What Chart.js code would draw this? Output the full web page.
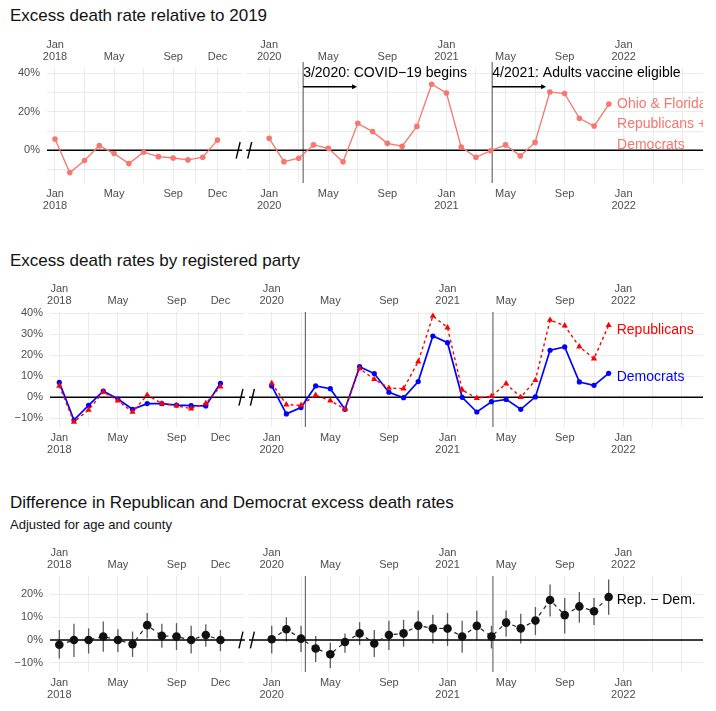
<!DOCTYPE html>
<html>
<head>
<meta charset="utf-8">
<script src="https://cdn.jsdelivr.net/npm/chart.js@4.4.1/dist/chart.umd.min.js"></script>
<style>
  body { margin: 0; background: #fff; font-family: 'Liberation Sans', Arial, sans-serif; }
  #wrap { position: relative; width: 716px; height: 711px; overflow: hidden; }
  .titulo { position: absolute; left: 10px; font-size: 17px; line-height: 20px; color: #111; white-space: nowrap; }
  .sub { position: absolute; left: 10px; font-size: 13px; line-height: 16px; color: #111; white-space: nowrap; }
  .painel { position: absolute; left: 0; width: 716px; }
</style>
</head>
<body>
<div id="wrap">
  <div class="titulo" style="top:6px">Excess death rate relative to 2019</div>
  <div class="painel" style="top:36px;height:179px"><canvas id="c1"></canvas></div>

  <div class="titulo" style="top:251px">Excess death rates by registered party</div>
  <div class="painel" style="top:280px;height:179px"><canvas id="c2"></canvas></div>

  <div class="titulo" style="top:493px">Difference in Republican and Democrat excess death rates</div>
  <div class="sub" style="top:517px">Adjusted for age and county</div>
  <div class="painel" style="top:544px;height:160px"><canvas id="c3"></canvas></div>
</div>

<script>
  // meses
  const months2018 = ['Jan', 'Feb', 'Mar', 'Apr', 'May', 'Jun', 'Jul', 'Aug', 'Sep', 'Oct', 'Nov', 'Dec'];
  const months2020 = months2018.map(m => m + ' 2020').concat(months2018.map(m => m + ' 2021'));

  // painel 1: Ohio & Florida, Republicans + Democrats (%)
  const total2018 = [5.9, -11.6, -5.3, 2.4, -1.7, -6.9, -1.0, -3.3, -4.0, -5.0, -3.6, 5.3];
  const total2020 = [6.2, -5.9, -4.1, 2.8, 1.0, -6.0, 14.0, 9.7, 3.6, 2.1, 12.4, 34.3,
                     29.8, 1.7, -3.6, -0.2, 2.8, -2.9, 4.1, 30.3, 29.5, 16.6, 12.6, 24.0];

  // painel 2: por partido (%)
  const dem2018 = [7.1, -10.8, -3.8, 3.0, -0.8, -5.7, -3.0, -3.0, -3.7, -4.0, -4.1, 6.7];
  const rep2018 = [5.4, -11.7, -6.0, 2.5, -1.6, -7.0, 1.1, -3.0, -4.0, -5.4, -2.9, 5.1];
  const dem2020 = [5.4, -7.9, -4.9, 5.4, 4.1, -5.7, 14.6, 11.3, 2.4, -0.2, 7.5, 29.2,
                   26.0, 0.0, -7.0, -2.1, -1.0, -5.7, 0.2, 22.4, 24.0, 7.3, 5.7, 11.4];
  const rep2020 = [6.7, -3.5, -3.8, 1.0, -1.6, -5.7, 13.7, 8.6, 4.4, 4.1, 17.0, 38.7,
                   33.2, 3.5, -0.4, 0.5, 6.5, 0.0, 8.1, 36.8, 34.1, 24.1, 18.4, 34.3];

  // painel 3: Rep. - Dem. com intervalo (%)
  const diff2018 = [-2.1, 0.0, 0.0, 1.5, 0.0, -1.8, 6.5, 1.8, 1.5, 0.0, 2.2, 0.0];
  const diffLo2018 = [-8.1, -7.4, -5.9, -5.1, -5.3, -7.4, 0.7, -3.4, -4.4, -5.9, -2.9, -4.9];
  const diffHi2018 = [4.4, 7.1, 5.1, 8.1, 4.7, 3.7, 11.8, 7.1, 7.4, 6.2, 6.9, 4.4];
  const diff2020 = [0.3, 4.7, 0.6, -3.7, -6.2, -0.9, 2.9, -1.5, 2.2, 2.9, 6.3, 5.1,
                    5.0, 1.5, 6.2, 1.5, 7.6, 5.1, 8.5, 17.5, 10.9, 14.7, 12.6, 18.8];
  const diffLo2020 = [-5.9, -0.7, -5.3, -9.6, -12.2, -5.6, -2.2, -7.4, -4.4, -2.9, 0.3, -1.5,
                      -2.6, -5.6, 0.0, -3.7, 1.5, -1.5, 2.2, 10.3, 2.9, 7.6, 6.6, 11.0];
  const diffHi2020 = [6.2, 10.0, 6.2, 1.8, -1.2, 2.9, 7.8, 4.4, 8.4, 8.8, 12.8, 11.0,
                      11.8, 8.4, 12.8, 6.2, 12.9, 11.5, 14.4, 24.3, 18.4, 21.0, 18.4, 26.5];

  // marcos (meses depois de Jan 2020)
  const eventMonths = [2.3, 15.1];
  const eventTexts = ['3/2020: COVID\u221219 begins', '4/2021: Adults vaccine eligible'];

  // rótulos do eixo x (posição em meses)
  const xLab2018 = { 0: ['Jan', '2018'], 4: 'May', 8: 'Sep', 11: 'Dec' };
  const xLab2020 = { 0: ['Jan', '2020'], 4: 'May', 8: 'Sep', 12: ['Jan', '2021'], 16: 'May', 20: 'Sep', 24: ['Jan', '2022'] };
  const xMinor2018 = [2, 6, 9.5];
  const xMinor2020 = [2, 6, 10, 14, 18, 22, 26, 28];

  const GRID = '#EBEBEB';
  const OFF20 = 14.5;           // Jan 2020 no eixo comprimido
  const GAP = [12.67, 12.95];   // quebra entre 2018 e 2020
  const SLASH = [12.4, 13.18];
  const FONT = "'Liberation Sans', Arial, sans-serif";

  Chart.defaults.font.family = FONT;
  Chart.defaults.font.size = 11;
  Chart.defaults.color = '#4D4D4D';

  const pts18 = vals => vals.map((v, i) => ({ x: i, y: v }));
  const pts20 = vals => vals.map((v, i) => ({ x: OFF20 + i, y: v }));

  const xTicks = [];
  Object.keys(xLab2018).forEach(k => xTicks.push({ value: +k, label: xLab2018[k] }));
  xMinor2018.forEach(k => xTicks.push({ value: k, label: '' }));
  Object.keys(xLab2020).forEach(k => xTicks.push({ value: OFF20 + +k, label: xLab2020[k] }));
  xMinor2020.forEach(k => xTicks.push({ value: OFF20 + k, label: '' }));
  xTicks.sort((a, b) => a.value - b.value);

  const pct = v => (v < 0 ? '\u2212' + (-v) : v) + '%';

  function eixoX(pos, min, max, grade) {
    return {
      type: 'linear', position: pos, min: min, max: max,
      grid: { display: grade, color: GRID, drawTicks: false },
      border: { display: false },
      afterBuildTicks: axis => { axis.ticks = xTicks.map(t => ({ value: t.value })); },
      afterFit: axis => { axis.height = 32; },
      ticks: {
        autoSkip: false, maxRotation: 0, minRotation: 0, padding: 5,
        font: { size: 11, lineHeight: 1.1 },
        callback: (v, i) => xTicks[i].label
      }
    };
  }

  function eixoY(min, max, step, labelled, largura) {
    return {
      min: min, max: max,
      grid: { color: GRID, drawTicks: false },
      border: { display: false },
      afterBuildTicks: axis => {
        const t = [];
        for (let v = Math.ceil(min / step) * step; v <= max; v += step) t.push({ value: v });
        axis.ticks = t;
      },
      afterFit: axis => { axis.width = largura; },
      ticks: { padding: 7, font: { size: 11 }, callback: v => labelled.includes(v) ? pct(v) : '' }
    };
  }

  // desenhos extras: quebra, linha zero, marcos, barras de erro, textos
  function decor(cfg) {
    return {
      id: 'decor',
      beforeDatasetsDraw(chart) {
        const { ctx, chartArea: a, scales: { x, y } } = chart;
        const g0 = x.getPixelForValue(GAP[0]), g1 = x.getPixelForValue(GAP[1]);
        ctx.save();
        ctx.fillStyle = '#fff';
        ctx.fillRect(g0, a.top - 1, g1 - g0, a.bottom - a.top + 2);

        ctx.strokeStyle = '#6b6b6b';
        ctx.lineWidth = 1.2;
        eventMonths.forEach(m => {
          const xm = x.getPixelForValue(OFF20 + m);
          ctx.beginPath();
          ctx.moveTo(xm, a.top - (cfg.vTop || 0));
          ctx.lineTo(xm, a.bottom);
          ctx.stroke();
        });

        if (cfg.barras) {
          ctx.strokeStyle = '#5a5a5a';
          ctx.lineWidth = 1.3;
          cfg.barras.forEach(b => {
            b.lo.forEach((lo, i) => {
              const xb = x.getPixelForValue(b.off + i);
              ctx.beginPath();
              ctx.moveTo(xb, y.getPixelForValue(lo));
              ctx.lineTo(xb, y.getPixelForValue(b.hi[i]));
              ctx.stroke();
            });
          });
        }

        const y0 = y.getPixelForValue(0);
        ctx.strokeStyle = '#000';
        ctx.lineWidth = 1.5;
        ctx.beginPath();
        ctx.moveTo(a.left, y0); ctx.lineTo(g0, y0);
        ctx.moveTo(g1, y0); ctx.lineTo(a.right, y0);
        ctx.stroke();
        ctx.restore();
      },
      afterDatasetsDraw(chart) {
        const { ctx, chartArea: a, scales: { x, y } } = chart;
        const y0 = y.getPixelForValue(0);
        ctx.save();
        ctx.strokeStyle = '#000';
        ctx.lineWidth = 1.4;
        SLASH.forEach(s => {
          const xs = x.getPixelForValue(s);
          ctx.beginPath();
          ctx.moveTo(xs - 2, y0 + 8.3);
          ctx.lineTo(xs + 2, y0 - 8.3);
          ctx.stroke();
        });

        if (cfg.eventos) {
          ctx.fillStyle = '#000';
          ctx.font = '14px ' + FONT;
          ctx.textBaseline = 'middle';
          ctx.textAlign = 'left';
          eventMonths.forEach((m, i) => {
            const xm = x.getPixelForValue(OFF20 + m);
            ctx.fillText(eventTexts[i], xm, y.getPixelForValue(cfg.eventos.textY));
            const ya = y.getPixelForValue(cfg.eventos.arrowY);
            const xe = x.getPixelForValue(OFF20 + m + cfg.eventos.arrowLen);
            ctx.lineWidth = 1.3;
            ctx.beginPath();
            ctx.moveTo(xm, ya); ctx.lineTo(xe - 3, ya);
            ctx.stroke();
            ctx.beginPath();
            ctx.moveTo(xe, ya); ctx.lineTo(xe - 5, ya - 2.5); ctx.lineTo(xe - 5, ya + 2.5);
            ctx.closePath();
            ctx.fill();
          });
        }

        // rótulos das séries, cortados na área do gráfico
        ctx.beginPath();
        ctx.rect(a.left, a.top - 20, a.right - a.left, a.bottom - a.top + 40);
        ctx.clip();
        ctx.font = '14px ' + FONT;
        ctx.textBaseline = 'middle';
        ctx.textAlign = 'left';
        cfg.rotulos.forEach(r => {
          ctx.fillStyle = r.cor;
          const xr = x.getPixelForValue(OFF20 + 23.55);
          r.linhas.forEach((l, i) => ctx.fillText(l, xr, y.getPixelForValue(r.y) + i * 20.5));
        });
        ctx.restore();
      }
    };
  }

  function painel(id, xmin, xmax, yAxis, datasets, cfg) {
    new Chart(document.getElementById(id).getContext('2d'), {
      type: 'line',
      data: { datasets: datasets },
      options: {
        responsive: true,
        maintainAspectRatio: false,
        animation: false,
        events: [],
        layout: { padding: { left: 0, right: 13, top: 0, bottom: 0 } },
        scales: {
          x: eixoX('bottom', xmin, xmax, true),
          xTop: eixoX('top', xmin, xmax, false),
          y: yAxis
        },
        plugins: { legend: { display: false }, tooltip: { enabled: false } }
      },
      plugins: [decor(cfg)]
    });
  }

  const SALMON = '#F8766D';
  const serie = (data, cor, extra) => Object.assign({
    data: data, borderColor: cor, backgroundColor: cor, borderWidth: 1.3,
    pointRadius: 2.8, pointBorderWidth: 0, tension: 0
  }, extra || {});

  /* Painel 1 */
  painel('c1', -0.5416, 43.87, eixoY(-16.99, 42.75, 10, [0, 20, 40], 47), [
    serie(pts18(total2018), SALMON),
    serie(pts20(total2020), SALMON)
  ], {
    vTop: 6,
    eventos: { textY: 40.3, arrowY: 33, arrowLen: 3.65 },
    rotulos: [{ cor: SALMON, y: 24, linhas: ['Ohio & Florida', 'Republicans +', 'Democrats'] }]
  });

  /* Painel 2 */
  const repOpts = { borderDash: [3, 3], borderWidth: 1.4, pointStyle: 'triangle', pointRadius: 3.6 };
  const demOpts = { borderWidth: 1.7, pointRadius: 2.6 };
  painel('c2', -0.635, 43.94, eixoY(-14.14, 40.62, 5, [-10, 0, 10, 20, 30, 40], 50), [
    serie(pts18(rep2018), '#FF0000', repOpts),
    serie(pts20(rep2020), '#FF0000', repOpts),
    serie(pts18(dem2018), '#0000FF', demOpts),
    serie(pts20(dem2020), '#0000FF', demOpts)
  ], {
    rotulos: [
      { cor: '#FF0000', y: 32, linhas: ['Republicans'] },
      { cor: '#0000FF', y: 9.5, linhas: ['Democrats'] }
    ]
  });

  /* Painel 3 */
  const difOpts = { borderDash: [4, 4], borderWidth: 1.2, borderColor: '#222', pointRadius: 4.3 };
  painel('c3', -0.635, 43.94, eixoY(-14.0, 28.01, 5, [-10, 0, 10, 20], 50), [
    serie(pts18(diff2018), '#111', difOpts),
    serie(pts20(diff2020), '#111', difOpts)
  ], {
    barras: [
      { off: 0, lo: diffLo2018, hi: diffHi2018 },
      { off: OFF20, lo: diffLo2020, hi: diffHi2020 }
    ],
    rotulos: [{ cor: '#000', y: 17.5, linhas: ['Rep. \u2212 Dem.'] }]
  });
</script>
</body>
</html>
